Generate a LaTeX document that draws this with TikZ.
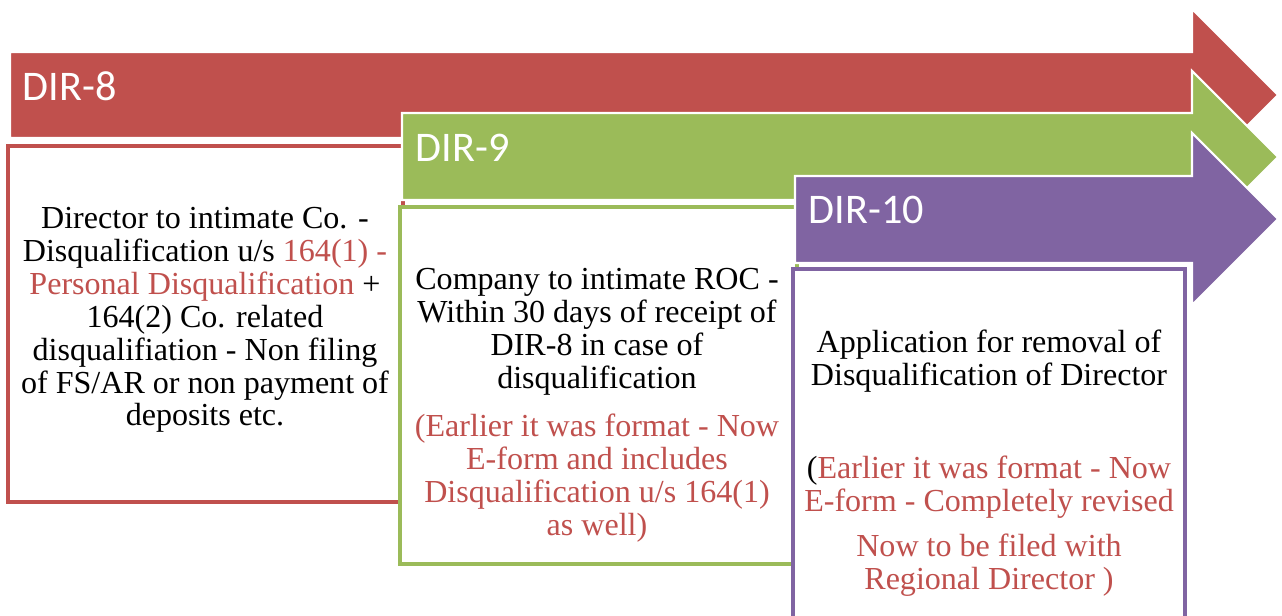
\documentclass[tikz,border=0pt]{standalone}
\usepackage{fontspec}
\setmainfont{Liberation Serif}
\newfontfamily\formfont{Carlito}
\usetikzlibrary{positioning}
\definecolor{dirred}{RGB}{192, 80, 77}
\definecolor{dirgreen}{RGB}{155, 187, 89}
\definecolor{dirpurple}{RGB}{128, 100, 162}

\begin{document}
\begin{tikzpicture}[x=0.025cm, y=-0.025cm,
    formlabel/.style={font=\formfont\fontsize{30}{36}\selectfont, white, anchor=west},
    bodytext/.style={font=\fontsize{22.8}{23.4}\selectfont, align=center},
    infobox/.style={line width=3pt, fill=white}]

        \useasboundingbox (0,0) rectangle (1282,616);
        \clip (0,0) rectangle (1282,616);

        % --- DIR-8 ---
        \filldraw[fill=dirred, draw=white, line width=1.5pt] (10,52) -- (1192,52) -- (1192,9) -- (1278,95) -- (1192,181) -- (1192,138) -- (10,138) -- cycle;
        \node[formlabel] (dir8) at (18,86) {DIR-8};
        \draw[dirred, infobox] (8,146) rectangle (403,502);
        \node[bodytext] (dir8info) at (205,320) {Director to intimate Co. -\\Disqualification u/s \textcolor{dirred}{164(1) -}\\\textcolor{dirred}{Personal Disqualification} +\\164(2) Co. related\\disqualifiation - Non filing\\of FS/AR or non payment of\\deposits etc.};

        % --- DIR-9 ---
        \filldraw[fill=dirgreen, draw=white, line width=1.5pt] (402,113) -- (1192,113) -- (1192,71) -- (1278,157) -- (1192,243) -- (1192,200) -- (402,200) -- cycle;
        \node[formlabel] (dir9) at (411,148) {DIR-9};
        \draw[dirgreen, infobox] (400,207) rectangle (797,564);
        \node[bodytext] (dir9info) at (597,332) {Company to intimate ROC -\\Within 30 days of receipt of\\DIR-8 in case of\\disqualification};
        \node[bodytext, dirred] (dir9note) at (597,478) {(Earlier it was format - Now\\E-form and includes\\Disqualification u/s 164(1)\\as well)};

        % --- DIR-10 ---
        \filldraw[fill=dirpurple, draw=white, line width=1.5pt] (795,176) -- (1192,176) -- (1192,133) -- (1278,219) -- (1192,305) -- (1192,263) -- (795,263) -- cycle;
        \node[formlabel] (dir10) at (804,210) {DIR-10};
        \draw[dirpurple, infobox] (793,269) rectangle (1185,640);
        \node[bodytext] (dir10info) at (989,361) {Application for removal of\\Disqualification of Director};
        \node[bodytext, dirred] (dir10note) at (989,526) {\textcolor{black}{(}Earlier it was format - Now\\E-form - Completely revised\\[8.5pt]Now to be filed with\\Regional Director )};

\end{tikzpicture}
\end{document}
